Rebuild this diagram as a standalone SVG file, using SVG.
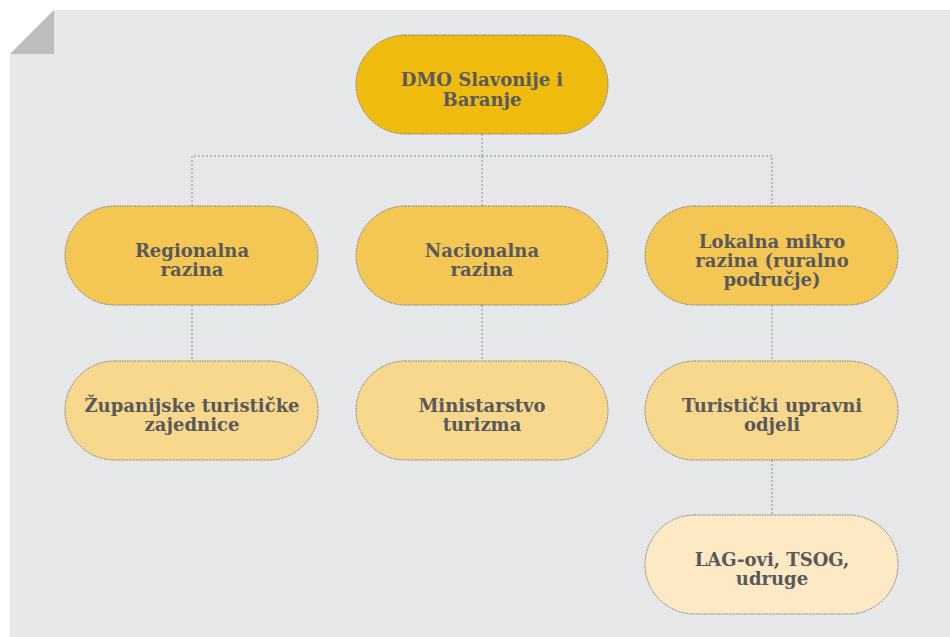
<svg xmlns="http://www.w3.org/2000/svg" width="950" height="637" viewBox="0 0 950 637">
<style>
.node rect{stroke:#77787b;stroke-width:1;stroke-dasharray:1.5 1}
.node text{font-family:"DejaVu Serif","Liberation Serif",serif;font-weight:bold;font-size:18px;fill:#58595b;text-anchor:middle}
.c0 rect{fill:#f0bb0f}
.c1 rect{fill:#f4c755}
.c2 rect{fill:#f8d88c}
.c3 rect{fill:#fde9c4}
#connectors path{fill:none;stroke:#a7a9ac;stroke-width:1.5;stroke-dasharray:2 2}
</style>
<rect width="950" height="637" fill="#ffffff"/>
<polygon points="54,10 950,10 950,637 10,637 10,54" fill="#e6e7e8"/>
<polygon points="10,54 54,10 54,54" fill="#bcbdbf"/>
<g id="connectors">
<path d="M482,134 V156 M192,206 V156 H772 V206 M482,156 V206"/>
<path d="M192,305 V361 M482,305 V361 M772,305 V361 M772,460 V515"/>
</g>
<g id="dmo" class="node c0"><rect x="356" y="35" width="252" height="99" rx="49.5"/><text x="482" y="86">DMO Slavonije i</text><text x="482" y="106">Baranje</text></g>
<g id="regionalna" class="node c1"><rect x="65" y="206" width="253" height="99" rx="49.5"/><text x="192" y="257">Regionalna</text><text x="192" y="276">razina</text></g>
<g id="nacionalna" class="node c1"><rect x="356" y="206" width="252" height="99" rx="49.5"/><text x="482" y="257">Nacionalna</text><text x="482" y="276">razina</text></g>
<g id="lokalna" class="node c1"><rect x="645" y="206" width="253" height="99" rx="49.5"/><text x="772" y="248">Lokalna mikro</text><text x="772" y="267">razina (ruralno</text><text x="772" y="286">područje)</text></g>
<g id="zupanijske" class="node c2"><rect x="65" y="361" width="253" height="99" rx="49.5"/><text x="192" y="412">Županijske turističke</text><text x="192" y="431">zajednice</text></g>
<g id="ministarstvo" class="node c2"><rect x="356" y="361" width="252" height="99" rx="49.5"/><text x="482" y="412">Ministarstvo</text><text x="482" y="431">turizma</text></g>
<g id="upravni" class="node c2"><rect x="645" y="361" width="253" height="99" rx="49.5"/><text x="772" y="412">Turistički upravni</text><text x="772" y="431">odjeli</text></g>
<g id="lag" class="node c3"><rect x="645" y="515" width="253" height="99" rx="49.5"/><text x="772" y="566">LAG-ovi, TSOG,</text><text x="772" y="585">udruge</text></g>
</svg>
